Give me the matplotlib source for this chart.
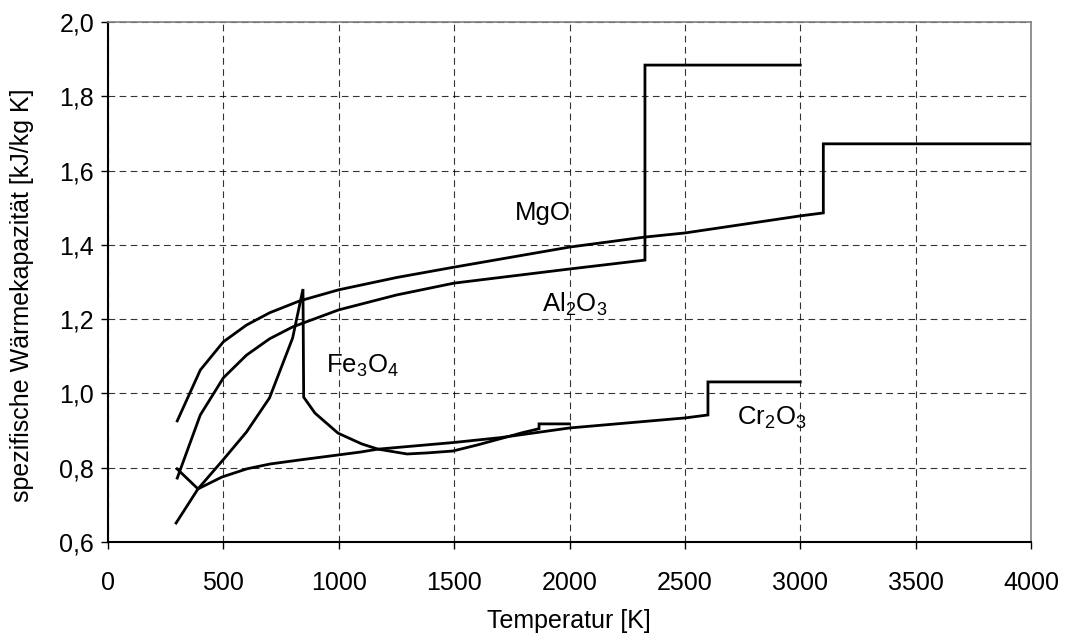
import matplotlib
matplotlib.use("Agg")
import matplotlib.pyplot as plt

plt.rcParams['font.family'] = ['Liberation Sans', 'DejaVu Sans']
plt.rcParams['mathtext.fontset'] = 'custom'
plt.rcParams['mathtext.rm'] = 'Liberation Sans'
plt.rcParams['mathtext.it'] = 'Liberation Sans'
plt.rcParams['mathtext.default'] = 'regular'

# MgO
mgo_T = [300, 400, 500, 600, 700, 830, 1000, 1250, 1500, 2000, 2327, 2500, 3000, 3100, 3100, 4000]
mgo_c = [0.926, 1.063, 1.139, 1.184, 1.217, 1.249, 1.279, 1.312, 1.340, 1.394, 1.421, 1.432, 1.478, 1.486, 1.672, 1.672]
# Al2O3
al_T = [300, 400, 500, 600, 700, 800, 1000, 1250, 1500, 2000, 2327, 2327, 3000]
al_c = [0.772, 0.942, 1.042, 1.103, 1.147, 1.179, 1.225, 1.265, 1.297, 1.335, 1.359, 1.884, 1.884]
# Fe3O4
fe_T = [295, 390, 500, 600, 700, 800, 845, 848, 897, 997, 1100, 1170, 1296, 1387, 1495, 1599, 1700, 1800, 1868, 1868, 2000]
fe_c = [0.651, 0.743, 0.822, 0.896, 0.988, 1.149, 1.281, 0.990, 0.947, 0.893, 0.864, 0.850, 0.837, 0.840, 0.845, 0.861, 0.878, 0.895, 0.905, 0.918, 0.918]
# Cr2O3
cr_T = [299, 390, 494, 602, 702, 832, 1092, 1170, 1500, 1700, 2000, 2500, 2600, 2600, 3000]
cr_c = [0.797, 0.743, 0.775, 0.797, 0.810, 0.821, 0.842, 0.850, 0.868, 0.881, 0.907, 0.934, 0.942, 1.031, 1.031]

x_ticks = [0, 500, 1000, 1500, 2000, 2500, 3000, 3500, 4000]
y_ticks = [0.6, 0.8, 1.0, 1.2, 1.4, 1.6, 1.8, 2.0]
y_ticklabels = ['0,6', '0,8', '1,0', '1,2', '1,4', '1,6', '1,8', '2,0']

labels = [("MgO", 1885, 1.467), ("Al$_2$O$_3$", 2024, 1.219),
          ("Fe$_3$O$_4$", 1101, 1.055), ("Cr$_2$O$_3$", 2878, 0.915)]

fig = plt.figure(figsize=(10.66, 6.41), dpi=100)
ax = fig.add_axes([108/1066, 1-542/641, (1031-108)/1066, (542-22)/641])

lw = 2.0
for T, c in [(mgo_T, mgo_c), (al_T, al_c), (fe_T, fe_c), (cr_T, cr_c)]:
    ax.plot(T, c, color='black', lw=lw, solid_joinstyle='miter', zorder=3)

ax.set_xlim(0, 4000)
ax.set_ylim(0.6, 2.0)
ax.set_xticks(x_ticks)
ax.set_xticklabels([str(t) for t in x_ticks])
ax.set_yticks(y_ticks)
ax.set_yticklabels(y_ticklabels)
ax.tick_params(axis='both', labelsize=18, length=5, width=1, color='black')
ax.tick_params(axis='x', pad=16)
ax.tick_params(axis='y', pad=5)

ax.grid(True, color='black', linestyle=(0, (6, 4)), linewidth=0.8, alpha=0.8)
ax.set_axisbelow(True)

for s in ['left', 'bottom']:
    ax.spines[s].set_color('black')
    ax.spines[s].set_linewidth(1.5)
for s in ['top', 'right']:
    ax.spines[s].set_color('#808080')
    ax.spines[s].set_linewidth(1.2)

ax.set_xlabel('Temperatur [K]', fontsize=18)
ax.set_ylabel('spezifische Wärmekapazität [kJ/kg K]', fontsize=18)
ax.xaxis.set_label_coords(0.4995, -0.118)
ax.yaxis.set_label_coords(-0.093, 0.475)
ax.yaxis.label.set_verticalalignment('center')
ax.xaxis.label.set_verticalalignment('center')
ax.xaxis.set_label_coords(0.4995, (542-621)/520)

for txt, tx, ty in labels:
    ax.text(tx, ty, txt, fontsize=18.5, ha='center', va='baseline', zorder=4)

fig.savefig('out.png', dpi=100)
